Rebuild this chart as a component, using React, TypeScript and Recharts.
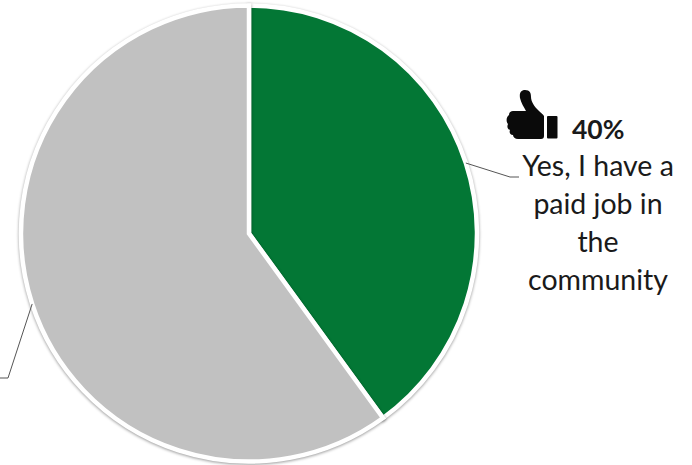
// App.tsx
// Pie chart - paid job in the community, with thumbs-up callout.

import * as React from "react";
import { PieChart, Pie, Cell } from "recharts";

const categories = ["Yes, I have a paid job in the community", "No"];
const seriesValues = [40, 60];
const sliceColors = ["#037735", "#c1c1c1"];
const labelLines = ["Yes, I have a", "paid job in", "the", "community"];
const percentLabel = "40%";

const chartData = categories.map((name, i) => ({ name, value: seriesValues[i] }));

const RAD = Math.PI / 180;

const ThumbIcon = () => (
  <g fill="#0a0a0a">
    <path d="M520 98 C519 92 522 90 525 90 C530 90 531 93 531 97 C531 102 535 107 538 110 C541 113 543 114 544 116 L544 136 C544 138 543 139 541 139 L518 139 C515 139 513 137 513 135 C510 135 509 132 510 130 C507 129 507 126 508 124 C506 122 506 117 509 115 C509 112 511 111 513 111 L526 111 C524 107 521 103 520 98 Z" />
    <rect x="547" y="116" width="10.5" height="22.5" rx="1" />
  </g>
);

// leader line starts at slice mid angle and runs out to the label (or page edge)
const renderLeader = (props: any) => {
  const { cx, cy, outerRadius, midAngle, index } = props;
  const sx = cx + outerRadius * Math.cos(-midAngle * RAD);
  const sy = cy + outerRadius * Math.sin(-midAngle * RAD);
  const pts =
    index === 0
      ? `${sx},${sy} 510,177 519,177`
      : `${sx},${sy} 8,378 0,378`;
  return <polyline points={pts} fill="none" stroke="#555" strokeWidth={1} />;
};

const renderLabel = (props: any) => {
  if (props.index !== 0) return <g />;
  return (
    <g fontFamily="Lato, sans-serif" fill="#1a1a1a">
      <ThumbIcon />
      <text x={572} y={139} fontSize={26.5} fontWeight={700}>
        {percentLabel}
      </text>
      <text textAnchor="middle" fontSize={28.5}>
        {labelLines.map((line, i) => (
          <tspan key={line} x={598} y={176 + i * 38}>
            {line}
          </tspan>
        ))}
      </text>
    </g>
  );
};

const App: React.FC = () => (
  <div style={{ position: "absolute", left: 0, top: 0, width: 692, height: 465 }}>
    <PieChart width={692} height={465} margin={{ top: 0, right: 0, bottom: 0, left: 0 }}>
      <Pie
        data={chartData}
        dataKey="value"
        nameKey="name"
        cx={249}
        cy={233.5}
        innerRadius={0}
        outerRadius={228}
        startAngle={90}
        endAngle={-270}
        stroke="#ffffff"
        strokeWidth={4.5}
        label={renderLabel}
        labelLine={renderLeader}
        isAnimationActive={false}
        style={{ filter: "drop-shadow(0px 1px 1.5px rgba(0,0,0,0.4))" }}
      >
        {chartData.map((d, i) => (
          <Cell key={d.name} fill={sliceColors[i]} />
        ))}
      </Pie>
    </PieChart>
  </div>
);

export default App;
